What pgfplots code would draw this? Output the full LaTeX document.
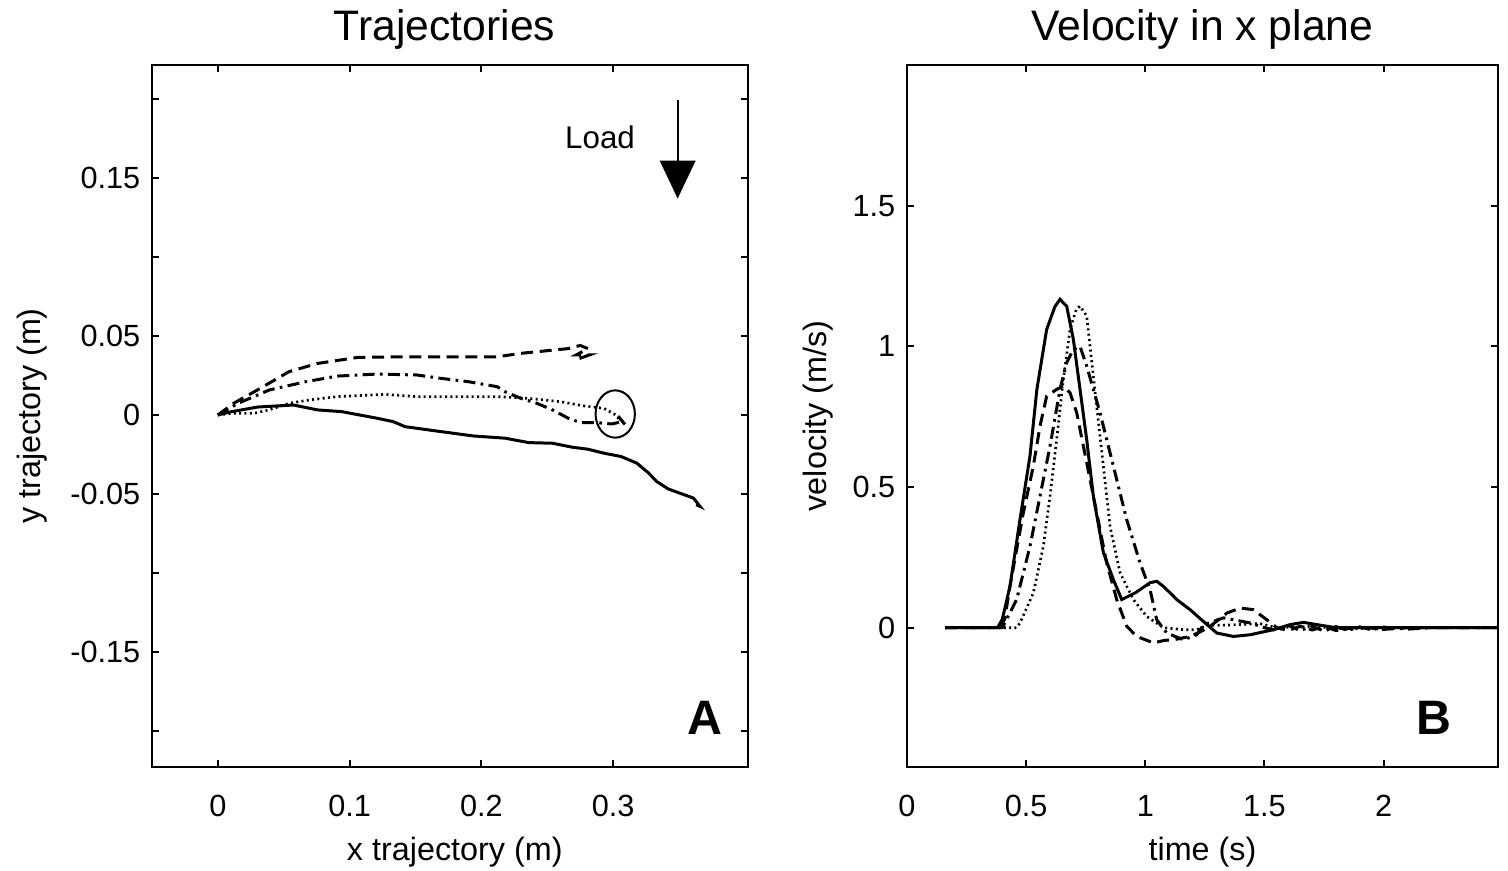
\documentclass[border=0pt]{standalone}
\usepackage{pgfplots}
\pgfplotsset{compat=1.18}
\usepackage{fontspec}
\setmainfont{Liberation Sans}
\pgfplotsset{
  panel/.style={
    scale only axis, anchor=south west,
    width=178.8pt, height=210.6pt,
    axis line style={line width=0.8pt},
    tick style={line width=0.6pt, black},
    major tick length=2pt,
    tick align=inside, tick pos=both,
    ticklabel style={font=\fontsize{9.2}{11}\selectfont},
    xticklabel style={yshift=-5pt},
    label style={font=\fontsize{9.7}{12}\selectfont},
    clip=false,
  },
  sol/.style={black, line width=0.9pt},
  dsh/.style={black, line width=0.9pt, dash pattern=on 3.6pt off 2pt},
  dot/.style={black, line width=0.8pt, dash pattern=on 0.6pt off 1.0pt},
  dsd/.style={black, line width=0.9pt, dash pattern=on 3.6pt off 1.6pt on 0.8pt off 1.6pt},
}
\begin{document}
\begin{tikzpicture}
\useasboundingbox (0,0) rectangle (452.4pt,261.3pt);
% ---------------- Panel A ----------------
\begin{axis}[panel,
  at={(45.6pt,31.2pt)},
  xmin=-0.05, xmax=0.4024, ymin=-0.2228, ymax=0.2215,
  xtick={0,0.1,0.2,0.3}, xticklabels={0,0.1,0.2,0.3},
  ytick={-0.2,-0.15,-0.1,-0.05,0,0.05,0.1,0.15,0.2},
  yticklabels={,-0.15,,-0.05,0,0.05,,0.15,},
  xlabel={x trajectory (m)},
  xlabel style={at={(axis description cs:0.508,-0.1211)}, anchor=center},
  ylabel={y trajectory (m)},
  ylabel style={at={(axis description cs:-0.2013,0.5)}, anchor=center},
]
\addplot[sol] coordinates {
(0,0) (0.01,0.002) (0.03,0.005) (0.0574,0.0063) (0.0756,0.0032) (0.094,0.0021)
(0.121,-0.0021) (0.133,-0.0042) (0.142,-0.0074) (0.169,-0.0105) (0.194,-0.0133)
(0.218,-0.0147) (0.236,-0.0175) (0.254,-0.0179) (0.269,-0.0204) (0.281,-0.0217)
(0.293,-0.0242) (0.306,-0.0263) (0.318,-0.0305) (0.327,-0.0368) (0.333,-0.0421)
(0.342,-0.0469) (0.354,-0.0505) (0.361,-0.0526) (0.366,-0.0579) (0.363,-0.0568)};
\addplot[dsh] coordinates {
(0,0) (0.012,0.0074) (0.030,0.0158) (0.054,0.0274) (0.0756,0.0326) (0.106,0.0364)
(0.136,0.0368) (0.181,0.0368) (0.212,0.0368) (0.230,0.039) (0.254,0.041)
(0.266,0.042) (0.275,0.044) (0.281,0.042) (0.272,0.038) (0.282,0.038) (0.272,0.035)};
\addplot[dsd] coordinates {
(0,0) (0.0155,0.0074) (0.039,0.0158) (0.0665,0.021) (0.0907,0.0246) (0.121,0.0259)
(0.151,0.0253) (0.169,0.0232) (0.1906,0.021) (0.212,0.0179) (0.218,0.0147)
(0.230,0.0105) (0.242,0.0074) (0.254,0.0032) (0.266,-0.0021) (0.275,-0.0048)
(0.287,-0.0048) (0.299,-0.0057) (0.307,-0.0042) (0.303,0.000) (0.309,-0.006)};
\addplot[dot] coordinates {
(0,0) (0.0105,0.001) (0.027,0.001) (0.039,0.0032) (0.054,0.0074) (0.0695,0.0095)
(0.0907,0.0116) (0.127,0.013) (0.151,0.0116) (0.212,0.0116) (0.236,0.0105)
(0.260,0.0084) (0.278,0.0057) (0.293,0.0042) (0.302,0) (0.305,-0.0032) (0.308,-0.0042)};
% circle around end point
\draw[line width=0.6pt] (axis cs:0.3016,0.0006) ellipse [x radius=5.9pt, y radius=7.1pt];
% load arrow
\draw[line width=0.6pt] (axis cs:0.349,0.1994) -- (axis cs:0.349,0.160);
\fill (axis cs:0.3353,0.161) -- (axis cs:0.3627,0.161) -- (axis cs:0.349,0.137) -- cycle;
\node[font=\fontsize{9.4}{11}\selectfont] at (axis cs:0.2901,0.176) {Load};
\node[font=\bfseries\fontsize{14.5}{16}\selectfont] at (axis description cs:0.928,0.0698) {A};
\node[font=\fontsize{12.8}{15}\selectfont, anchor=center] at (axis description cs:0.491,1.0499) {Trajectories};
\end{axis}
% ---------------- Panel B ----------------
\begin{axis}[panel,
  at={(272.1pt,31.2pt)},
  width=177.3pt,
  xmin=0, xmax=2.48, ymin=-0.495, ymax=2.0,
  xtick={0,0.5,1,1.5,2}, xticklabels={0,0.5,1,1.5,2},
  ytick={0,0.5,1,1.5}, yticklabels={0,0.5,1,1.5},
  xlabel={time (s)},
  xlabel style={at={(axis description cs:0.5,-0.1211)}, anchor=center},
  ylabel={velocity (m/s)},
  ylabel style={at={(axis description cs:-0.1506,0.5)}, anchor=center},
]
\addplot[sol] coordinates {
(0.16,0) (0.38,0) (0.40,0.03) (0.432,0.147) (0.474,0.384) (0.516,0.61) (0.545,0.847)
(0.586,1.06) (0.62,1.14) (0.642,1.167) (0.67,1.143) (0.698,1.025) (0.726,0.847)
(0.754,0.669) (0.782,0.467) (0.824,0.267) (0.866,0.171) (0.901,0.10) (0.96,0.125)
(1.02,0.16) (1.048,0.165) (1.076,0.147) (1.132,0.10) (1.188,0.064) (1.244,0.022)
(1.30,-0.019) (1.37,-0.031) (1.44,-0.025) (1.538,-0.007) (1.608,0.011) (1.664,0.019)
(1.72,0.011) (1.80,0) (2.0,0) (2.48,0)};
\addplot[dsh] coordinates {
(0.16,0) (0.39,0) (0.41,0.03) (0.432,0.147) (0.488,0.408) (0.53,0.574) (0.558,0.716)
(0.586,0.823) (0.628,0.847) (0.656,0.859) (0.684,0.835) (0.712,0.764) (0.754,0.587)
(0.796,0.408) (0.838,0.23) (0.88,0.10) (0.922,0.005) (0.964,-0.031) (1.034,-0.054)
(1.08,-0.045) (1.118,-0.043) (1.188,-0.031) (1.23,-0.015) (1.272,0.005) (1.342,0.052)
(1.398,0.07) (1.454,0.064) (1.51,0.028) (1.552,0) (1.6,-0.01) (1.65,0.005) (1.7,-0.008)
(1.75,0.004) (1.8,-0.01) (1.9,0.003) (2.0,-0.006) (2.1,0) (2.48,0)};
\addplot[dot] coordinates {
(0.16,0) (0.46,0) (0.474,0.017) (0.53,0.123) (0.572,0.289) (0.60,0.467) (0.628,0.669)
(0.656,0.883) (0.684,1.06) (0.71,1.13) (0.726,1.143) (0.754,1.108) (0.768,1.0)
(0.796,0.786) (0.824,0.574) (0.852,0.36) (0.894,0.195) (0.95,0.10) (1.006,0.04)
(1.076,0) (1.16,-0.007) (1.216,-0.007) (1.258,0.008) (1.37,0.01) (1.48,0.015)
(1.55,0) (1.7,0.005) (1.85,-0.005) (2.0,0) (2.48,0)};
\addplot[dsd] coordinates {
(0.16,0) (0.40,0) (0.46,0.10) (0.516,0.289) (0.558,0.467) (0.60,0.645) (0.642,0.847)
(0.67,0.942) (0.698,0.989) (0.726,1.0) (0.754,0.93) (0.81,0.764) (0.866,0.574)
(0.922,0.384) (0.978,0.23) (1.02,0.135) (1.048,0.028) (1.09,-0.019) (1.16,-0.043)
(1.216,-0.025) (1.244,0.01) (1.328,0.035) (1.44,0.017) (1.5,0) (1.55,-0.01) (1.6,0.008)
(1.65,-0.01) (1.7,0.005) (1.75,-0.012) (1.8,0.004) (1.85,-0.01) (1.9,0.003)
(1.95,-0.008) (2.0,0.002) (2.1,-0.005) (2.2,0) (2.48,0)};
\node[font=\bfseries\fontsize{14.5}{16}\selectfont] at (axis description cs:0.892,0.0698) {B};
\node[font=\fontsize{12.8}{15}\selectfont, anchor=center] at (axis description cs:0.5,1.0499) {Velocity in x plane};
\end{axis}
\end{tikzpicture}
\end{document}
